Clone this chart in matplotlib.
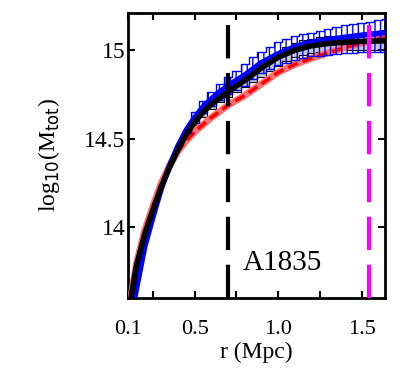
import matplotlib
matplotlib.use('Agg')
import matplotlib.pyplot as plt

plt.rcParams['font.family'] = 'Liberation Serif'
plt.rcParams['hatch.linewidth'] = 1.0

# radius grid (Mpc)
r = [0.10, 0.15, 0.20, 0.25, 0.30, 0.35, 0.40, 0.45, 0.50, 0.55, 0.60, 0.65, 0.70, 0.80,
     0.90, 1.00, 1.10, 1.20, 1.30, 1.40, 1.50, 1.60, 1.64]

# black profile
m_black = [13.50, 13.78, 13.96, 14.10, 14.23, 14.34, 14.44, 14.525, 14.595, 14.65, 14.695, 14.73,
           14.765, 14.83, 14.90, 14.96, 15.00, 15.025, 15.038, 15.045, 15.05, 15.052, 15.053]
# blue profile
m_blue = [13.40, 13.65, 13.89, 14.06, 14.22, 14.35, 14.46, 14.55, 14.62, 14.68, 14.725, 14.765,
          14.80, 14.86, 14.93, 14.98, 15.02, 15.045, 15.06, 15.073, 15.085, 15.095, 15.10]
# red profile
m_red = [13.50, 13.79, 13.98, 14.12, 14.25, 14.35, 14.43, 14.49, 14.54, 14.58, 14.62, 14.655,
         14.69, 14.745, 14.81, 14.875, 14.92, 14.955, 14.985, 15.015, 15.04, 15.065, 15.07]

# blue uncertainty band
r_band = [0.45, 0.50, 0.55, 0.60, 0.65, 0.70, 0.75, 0.80, 0.85, 0.90, 0.95, 1.00,
          1.05, 1.10, 1.15, 1.20, 1.25, 1.30, 1.35, 1.40, 1.45, 1.50, 1.55, 1.60, 1.64]
blue_hi = [14.565, 14.65, 14.715, 14.765, 14.81, 14.85, 14.885, 14.92, 14.96, 14.99, 15.02, 15.045,
           15.065, 15.08, 15.09, 15.10, 15.11, 15.12, 15.13, 15.14, 15.148, 15.155, 15.162, 15.17, 15.175]
blue_lo = [14.535, 14.59, 14.645, 14.685, 14.72, 14.75, 14.775, 14.80, 14.84, 14.87, 14.895, 14.915,
           14.93, 14.945, 14.955, 14.965, 14.97, 14.975, 14.978, 14.982, 14.985, 14.988, 14.99, 14.99, 14.99]
# black uncertainty band
black_hi = [14.54, 14.615, 14.675, 14.72, 14.755, 14.795, 14.83, 14.865, 14.90, 14.93, 14.96, 14.99,
            15.02, 15.04, 15.055, 15.065, 15.072, 15.078, 15.082, 15.085, 15.087, 15.089, 15.09, 15.09, 15.09]
black_lo = [14.51, 14.575, 14.625, 14.67, 14.705, 14.735, 14.765, 14.795, 14.82, 14.85, 14.88, 14.91,
            14.94, 14.96, 14.975, 14.985, 14.99, 14.995, 15.0, 15.0, 15.0, 15.0, 15.0, 15.0, 15.0]

r_inner = 0.7      # black dashed line
r_outer = 1.545    # magenta dashed line

fig = plt.figure(figsize=(4.0, 3.84), dpi=100)
ax = fig.add_axes([0.32, 0.224, 0.6425, 0.742])

ax.fill_between(r_band, black_lo, black_hi, step='mid', color='#c8c8c8', lw=0, zorder=1)
ax.plot(r_band, black_hi, drawstyle='steps-mid', color='k', lw=0.8, zorder=2)
ax.plot(r_band, black_lo, drawstyle='steps-mid', color='k', lw=0.8, zorder=2)

ax.plot(r, m_red, color='#ff7070', lw=5, zorder=3)
ax.plot(r, m_red, color='red', lw=2.5, ls=(0, (3, 1.5)), zorder=3)

ax.fill_between(r_band, blue_lo, blue_hi, step='mid', facecolor='none',
                edgecolor='blue', hatch='|||', lw=1, zorder=4)

ax.plot(r, m_blue, color='blue', lw=4, zorder=5)
ax.plot(r, m_black, color='k', lw=4, zorder=6)

ax.axvline(r_inner, color='k', lw=3, ls=(0, (8, 3.5)), zorder=7)
ax.axvline(r_outer, color='magenta', lw=3, ls=(0, (8, 3.5)), zorder=7)

ax.text(0.79, 13.8, 'A1835', fontsize=21, va='center', ha='left')

ax.set_xlim(0.1, 1.64)
ax.set_ylim(13.6, 15.21)
ax.set_xticks([0.1, 0.5, 1.0, 1.5])
ax.set_xticklabels(['0.1', '0.5', '1.0', '1.5'])
ax.set_xticks([0.25, 0.75, 1.25], minor=True)
ax.set_yticks([14, 14.5, 15])
ax.set_yticklabels(['14', '14.5', '15'])
ax.tick_params(which='both', direction='in', top=True, right=True, length=5, width=1.5)
ax.tick_params(axis='x', labelsize=16, pad=16)
ax.tick_params(axis='y', labelsize=17, pad=2)
for s in ax.spines.values():
    s.set_linewidth(2)

ax.set_xlabel('r (Mpc)', fontsize=17, labelpad=2)
ax.set_ylabel(r'log$_{10}$(M$_{\mathrm{tot}}$)', fontsize=17, labelpad=16)

plt.savefig('out.png', dpi=100)
